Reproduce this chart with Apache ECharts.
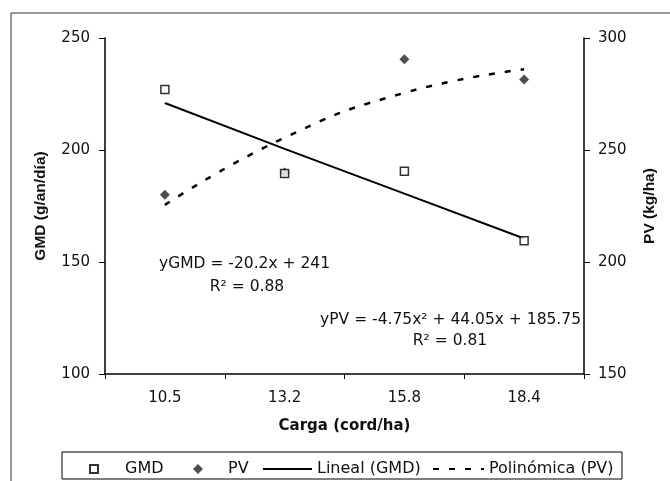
<!DOCTYPE html>
<html>
<head>
<meta charset="utf-8">
<script src="https://cdn.jsdelivr.net/npm/echarts@6/dist/echarts.min.js"></script>
<style>html,body{margin:0;padding:0;background:#fff}#c{width:670px;height:481px}</style>
</head>
<body>
<div id="c"></div>
<script>
const categories = ['10.5', '13.2', '15.8', '18.4'];
const gmdValues = [227, 189.5, 190.5, 159.5];
const pvValues = [230, 240, 290.5, 281.5];
const linealGmd = [221, 200.5, 180.5, 160.5];
const polinomicaPv = [225.5, 255.5, 275.5, 286];
const leftTicks = { min: 100, max: 250, interval: 50 };
const rightTicks = { min: 150, max: 300, interval: 50 };
const eqGmd = ['yGMD = -20.2x + 241', 'R² = 0.88'];
const eqPv = ['yPV = -4.75x² + 44.05x + 185.75', 'R² = 0.81'];

const FONT = 'DejaVu Sans';
const INK = '#111';
function legendItem(name, left, width, height, padLeft, extra) {
  return Object.assign({
    data: [name], left: left, top: 461, padding: 0, itemWidth: width, itemHeight: height,
    textStyle: { fontFamily: FONT, fontSize: 16, color: INK, padding: [0, 0, 0, padLeft] }
  }, extra || {});
}
const chart = echarts.init(document.getElementById('c'));
chart.setOption({
  animation: false,
  backgroundColor: '#fff',
  grid: { left: 105, right: 86, top: 38, bottom: 107, containLabel: false },
  xAxis: {
    type: 'category', data: categories, boundaryGap: true,
    name: 'Carga (cord/ha)', nameLocation: 'middle', nameGap: 45,
    nameTextStyle: { fontFamily: FONT, fontWeight: 'bold', fontSize: 15, color: INK },
    axisLine: { lineStyle: { color: '#000', width: 1.5 } },
    axisTick: { show: true, length: 5, lineStyle: { color: '#000' } },
    axisLabel: { fontFamily: FONT, fontSize: 15, color: INK, margin: 17 },
    splitLine: { show: false }
  },
  yAxis: [{
    type: 'value', position: 'left', ...leftTicks,
    name: 'GMD (g/an/día)', nameLocation: 'middle', nameRotate: 90, nameGap: 56,
    nameTextStyle: { fontFamily: 'Liberation Sans', fontWeight: 'bold', fontSize: 15.5, color: INK },
    axisLine: { show: true, lineStyle: { color: '#000', width: 1.5 } },
    axisTick: { show: true, length: 6, lineStyle: { color: '#000' } },
    axisLabel: { fontFamily: FONT, fontSize: 15, color: INK, margin: 15 },
    splitLine: { show: false }
  }, {
    type: 'value', position: 'right', ...rightTicks,
    name: 'PV (kg/ha)', nameLocation: 'middle', nameRotate: 90, nameGap: 58,
    nameTextStyle: { fontFamily: 'Liberation Sans', fontWeight: 'bold', fontSize: 15.5, color: INK },
    axisLine: { show: true, lineStyle: { color: '#000', width: 1.5 } },
    axisTick: { show: true, length: 6, lineStyle: { color: '#000' } },
    axisLabel: { fontFamily: FONT, fontSize: 15, color: INK, margin: 14 },
    splitLine: { show: false }
  }],
  legend: [
    legendItem('GMD', 89, 8, 8, 22),
    legendItem('PV', 193, 10, 10, 20),
    legendItem('Lineal (GMD)', 262, 49, 10, 0, { data: [{ name: 'Lineal (GMD)', itemStyle: { opacity: 0 } }] }),
    legendItem('Polinómica (PV)', 432, 51, 10, 0, { data: [{ name: 'Polinómica (PV)', itemStyle: { opacity: 0 } }] })
  ],
  series: [{
    name: 'Lineal (GMD)', type: 'line', yAxisIndex: 0, data: linealGmd,
    symbol: 'none', lineStyle: { color: '#000', width: 2 }, itemStyle: { color: '#000' }, z: 2
  }, {
    name: 'Polinómica (PV)', type: 'line', yAxisIndex: 1, data: polinomicaPv, smooth: true,
    symbol: 'none', lineStyle: { color: '#000', width: 2.5, type: [6, 10] }, itemStyle: { color: '#000' }, z: 2
  }, {
    name: 'GMD', type: 'scatter', yAxisIndex: 0, data: gmdValues,
    symbol: 'rect', symbolSize: 8,
    itemStyle: { color: '#fff', borderColor: '#000', borderWidth: 1.5 }, z: 4
  }, {
    name: 'PV', type: 'scatter', yAxisIndex: 1, data: pvValues,
    symbol: 'diamond', symbolSize: 10,
    itemStyle: { color: '#222' }, z: 3
  }],
  graphic: [
    { type: 'rect', shape: { x: 11, y: 13, width: 700, height: 520 }, style: { fill: 'none', stroke: '#333', lineWidth: 1 }, silent: true, z: -1 },
    { type: 'rect', shape: { x: 62, y: 452, width: 560, height: 27 }, style: { fill: 'none', stroke: '#000', lineWidth: 1 }, silent: true },
    { type: 'text', x: 159, y: 264, style: { text: eqGmd[0], font: '15.5px "DejaVu Sans"', fill: INK, textAlign: 'left', textVerticalAlign: 'middle' } },
    { type: 'text', x: 247, y: 287, style: { text: eqGmd[1], font: '15.5px "DejaVu Sans"', fill: INK, textAlign: 'center', textVerticalAlign: 'middle' } },
    { type: 'text', x: 581, y: 320, style: { text: eqPv[0], font: '15.5px "DejaVu Sans"', fill: INK, textAlign: 'right', textVerticalAlign: 'middle' } },
    { type: 'text', x: 450, y: 341, style: { text: eqPv[1], font: '15.5px "DejaVu Sans"', fill: INK, textAlign: 'center', textVerticalAlign: 'middle' } }
  ]
});
</script>
</body>
</html>
